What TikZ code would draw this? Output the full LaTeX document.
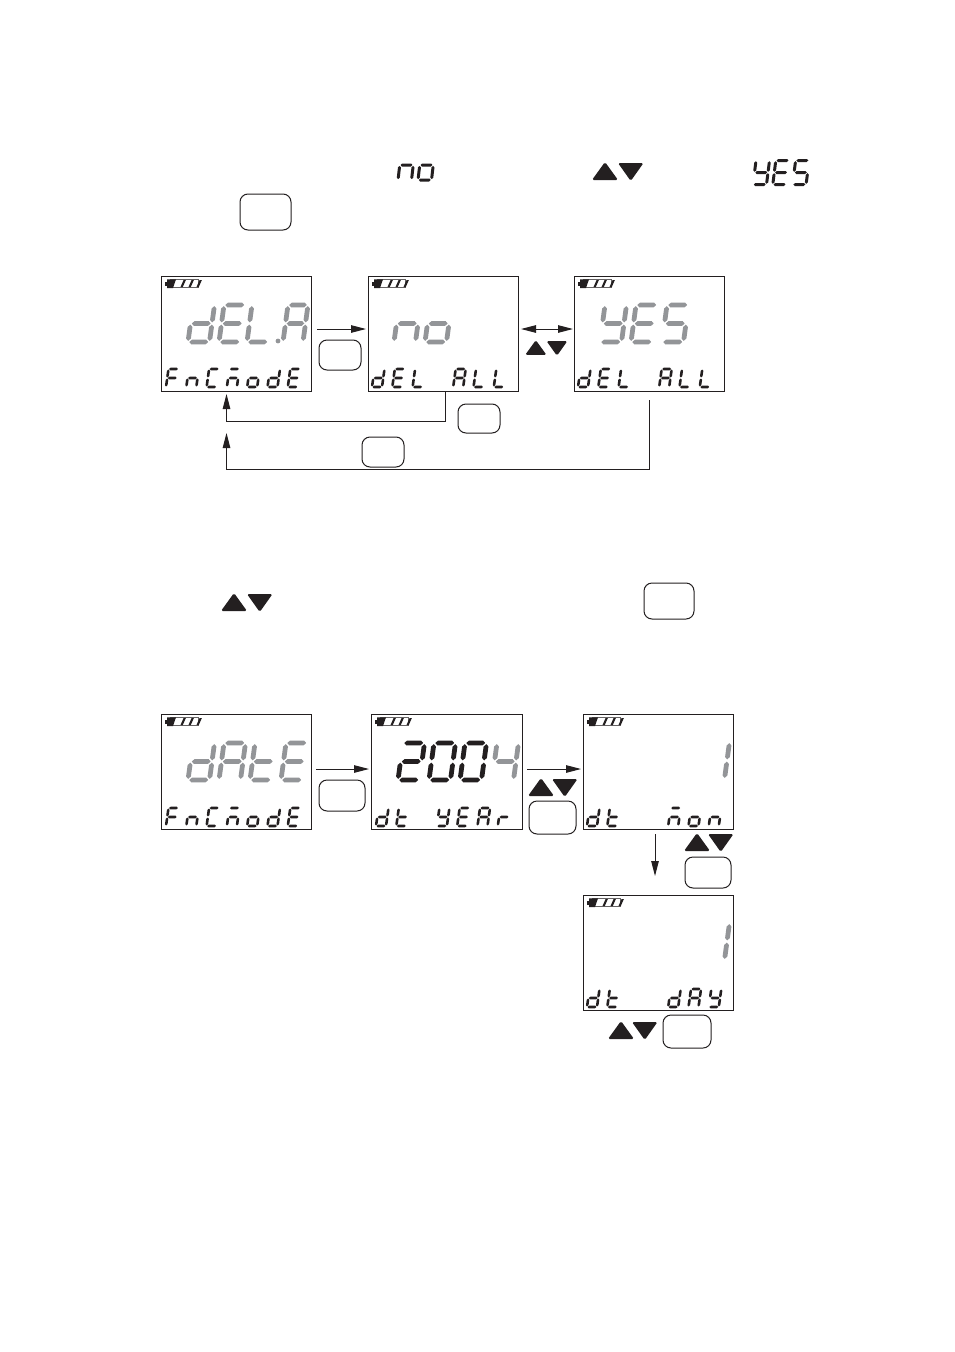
\documentclass[tikz,border=0pt]{standalone}
\usetikzlibrary{arrows.meta}
\definecolor{ink}{HTML}{231F20}
\definecolor{lcdgrey}{HTML}{939598}
\makeatletter
\def\hs#1#2#3{\fill (#1,#3) -- (#1+\lcdtx,#3-\lcdty) -- (#2-\lcdtx,#3-\lcdty) -- (#2,#3) -- (#2-\lcdtx,#3+\lcdty) -- (#1+\lcdtx,#3+\lcdty) -- cycle;}
\def\vs#1#2#3{\fill (#1,#2) -- (#1+\lcdtx,#2+\lcdty) -- (#1+\lcdtx,#3-\lcdty) -- (#1,#3) -- (#1-\lcdtx,#3-\lcdty) -- (#1-\lcdtx,#2+\lcdty) -- cycle;}
\def\SA{\hs{0.06}{0.94}{0}}
\def\SB{\vs{1}{0.03}{0.47}}
\def\SC{\vs{1}{0.53}{0.97}}
\def\SD{\hs{0.06}{0.94}{1}}
\def\SE{\vs{0}{0.53}{0.97}}
\def\SF{\vs{0}{0.03}{0.47}}
\def\SG{\hs{0.06}{0.94}{0.5}}
\def\lcddef#1#2{\expandafter\def\csname lcd@#1\endcsname{#2}}
\lcddef{d}{\SB\SC\SD\SE\SG}
\lcddef{E}{\SA\SD\SE\SF\SG}
\lcddef{L}{\SD\SE\SF}
\lcddef{A}{\SA\SB\SC\SE\SF\SG}
\lcddef{R}{\SA\SB\SC\SE\SF\SG}
\lcddef{n}{\SC\SE\SG}
\lcddef{m}{\SA\SC\SE\SG}
\lcddef{o}{\SC\SD\SE\SG}
\lcddef{Y}{\SB\SC\SD\SF\SG}
\lcddef{S}{\SA\SC\SD\SF\SG}
\lcddef{F}{\SA\SE\SF\SG}
\lcddef{C}{\SA\SD\SE\SF}
\lcddef{t}{\SD\SE\SF\SG}
\lcddef{r}{\SE\SG}
\lcddef{0}{\SA\SB\SC\SD\SE\SF}
\lcddef{2}{\SA\SB\SD\SE\SG}
\lcddef{4}{\SB\SC\SF\SG}
\lcddef{1}{\SB\SC}
\lcddef{_}{}
\newcommand\lcdline[8]{%
 \foreach \c [count=\i from 0] in {#8}{%
  \begin{scope}[shift={(#1+\i*#3+#6,#2)},x={(#4 pt,0pt)},y={(-#6 pt,-#5 pt)}]
   \pgfmathsetmacro\lcdtx{#7/#4}\pgfmathsetmacro\lcdty{#7/#5}
   \csname lcd@\c\endcsname
  \end{scope}}}
\makeatother
\newcommand\biglcd[4]{\begin{scope}[fill=#3]\lcdline{#1}{#2}{31}{21.5}{37}{5}{2.4}{#4}\end{scope}}
\newcommand\smalllcd[3]{\begin{scope}[fill=ink]\lcdline{#1}{#2}{20.3}{10}{18}{2.5}{1.3}{#3}\end{scope}}
\newcommand\battery[2]{%
 \begin{scope}[shift={(#1,#2)}]
  \fill[ink] (0,2.5) rectangle (3,7);
  \draw[ink!70,line width=1pt,fill=white] (5,.7) rectangle (33.5,8.5);
  \fill[ink] (2,.3) rectangle (6,9) (6,.3) -- (11,.3) -- (8,9) -- (6,9) -- cycle;
  \foreach \k in {0,1,2}{\fill[ink] (18.5+\k*8,1.2) -- (20.8+\k*8,1.2) -- (17.8+\k*8,8) -- (15.5+\k*8,8) -- cycle;}
 \end{scope}}
\newcommand\upt[2]{\fill[ink,rounded corners=1.6pt] (#1+12,#2-1) -- (#1+25,#2+17) -- (#1-1,#2+17) -- cycle;}
\newcommand\dnt[2]{\fill[ink,rounded corners=1.6pt] (#1-1,#2) -- (#1+24.5,#2) -- (#1+11.75,#2+18) -- cycle;}
\tikzset{
 lcdbox/.style={draw=ink,line width=1.1pt,minimum width=150pt,minimum height=115pt,inner sep=0pt,outer sep=0pt},
 keybtn/.style={draw=ink,line width=1pt,rounded corners=8pt,inner sep=0pt,outer sep=0pt},
 link/.style={draw=ink,line width=1pt},
 arr/.style={link,-{Triangle[length=15pt,width=7.5pt,color=ink]}},
 darr/.style={link,{Triangle[length=15pt,width=7.5pt,color=ink]}-{Triangle[length=15pt,width=7.5pt,color=ink]}},
}
\begin{document}
\begin{tikzpicture}[x=1pt,y=-1pt]
\useasboundingbox[fill=white] (0,0) rectangle (954,1352);
\node[lcdbox] (b1) at (236.5,334) {};
\node[lcdbox] (b2) at (443.5,334) {};
\node[lcdbox] (b3) at (649.5,334) {};
\node[lcdbox] (b4) at (236.5,772) {};
\node[lcdbox,minimum width=151pt] (b5) at (447,772) {};
\node[lcdbox] (b6) at (658.5,772) {};
\node[lcdbox] (b7) at (658.5,953) {};
\foreach \bx/\by in {165/279,372/279,578/279,165/717,375/717,587/717,587/898}{\battery{\bx}{\by}}
\begin{scope}[fill=ink]\lcdline{398}{150}{20}{13.5}{30}{3.5}{1.5}{n,o}\end{scope}
\begin{scope}[fill=ink]\lcdline{753}{160.5}{19.8}{13.5}{24}{3}{1.5}{Y,E,S}\end{scope}
\biglcd{188}{305}{lcdgrey}{d,E}
\biglcd{247}{305}{lcdgrey}{L}
\begin{scope}[fill=lcdgrey]\lcdline{283}{305}{31}{20}{37}{5}{2.4}{A}\end{scope}
\fill[lcdgrey] (278,341) circle (2.4);
\biglcd{394}{305}{lcdgrey}{n,o}
\biglcd{600}{305}{lcdgrey}{Y,E,S}
\biglcd{188}{743}{lcdgrey}{d,A,t,E}
\biglcd{398}{743}{ink}{2,0,0}
\biglcd{492}{743}{lcdgrey}{4}
\biglcd{703}{742}{lcdgrey}{1}
\biglcd{703}{923}{lcdgrey}{1}
\smalllcd{166}{369}{F,n,C,m,o,d,E}
\smalllcd{372}{369}{d,E,L,_,A,L,L}
\smalllcd{578}{369}{d,E,L,_,A,L,L}
\smalllcd{166}{808}{F,n,C,m,o,d,E}
\smalllcd{376}{808}{d,t,_,Y,E,R,r}
\smalllcd{587}{808}{d,t,_,_,m,o,n}
\smalllcd{587}{989}{d,t,_,_,d,A,Y}
\node[keybtn,minimum width=51pt,minimum height=36pt] (k0) at (265.5,212) {};
\node[keybtn,minimum width=42pt,minimum height=30pt] (k1) at (340,355) {};
\node[keybtn,minimum width=42pt,minimum height=29pt] (k2) at (479,418.5) {};
\node[keybtn,minimum width=42pt,minimum height=30pt] (k3) at (383,452) {};
\node[keybtn,minimum width=50pt,minimum height=36pt] (k4) at (669,601) {};
\node[keybtn,minimum width=46pt,minimum height=31pt] (k5) at (342,795.5) {};
\node[keybtn,minimum width=47pt,minimum height=33pt] (k6) at (552.5,817.5) {};
\node[keybtn,minimum width=46pt,minimum height=31pt] (k7) at (708,872.5) {};
\node[keybtn,minimum width=48pt,minimum height=33pt] (k8) at (687,1031.5) {};
\upt{593}{163}\dnt{619}{163}
\upt{222}{594}\dnt{248}{594}
\begin{scope}[shift={(526,341)},scale=.82]\upt{0}{0}\dnt{26}{0}\end{scope}
\upt{529}{779}\dnt{553}{779}
\upt{685}{834}\dnt{709}{834}
\upt{609}{1022}\dnt{633}{1022}
\draw[arr] ([shift={(5.5pt,5pt)}]b1.east) -- ([shift={(-2.5pt,5pt)}]b2.west);
\draw[darr] ([shift={(2.5pt,5pt)}]b2.east) -- ([shift={(-1.5pt,5pt)}]b3.west);
\coordinate (t1) at ([xshift=-10pt,yshift=-2.5pt]b1.south);
\coordinate (t2) at (226.5,433);
\draw[arr] ([xshift=1.5pt]b2.south) |- (226.5,421) -- (t1);
\draw[arr] ([yshift=-8.5pt]b3.south) |- (226.5,469) -- (t2);
\draw[arr] ([shift={(4.5pt,3pt)}]b4.east) -- ([shift={(-2.5pt,3pt)}]b5.west);
\draw[arr] ([shift={(4.5pt,3pt)}]b5.east) -- ([shift={(-2.5pt,3pt)}]b6.west);
\coordinate (t3) at (655,876);
\draw[arr] ([shift={(-3.5pt,-4.5pt)}]b6.south) -- (t3);
\end{tikzpicture}
\end{document}
